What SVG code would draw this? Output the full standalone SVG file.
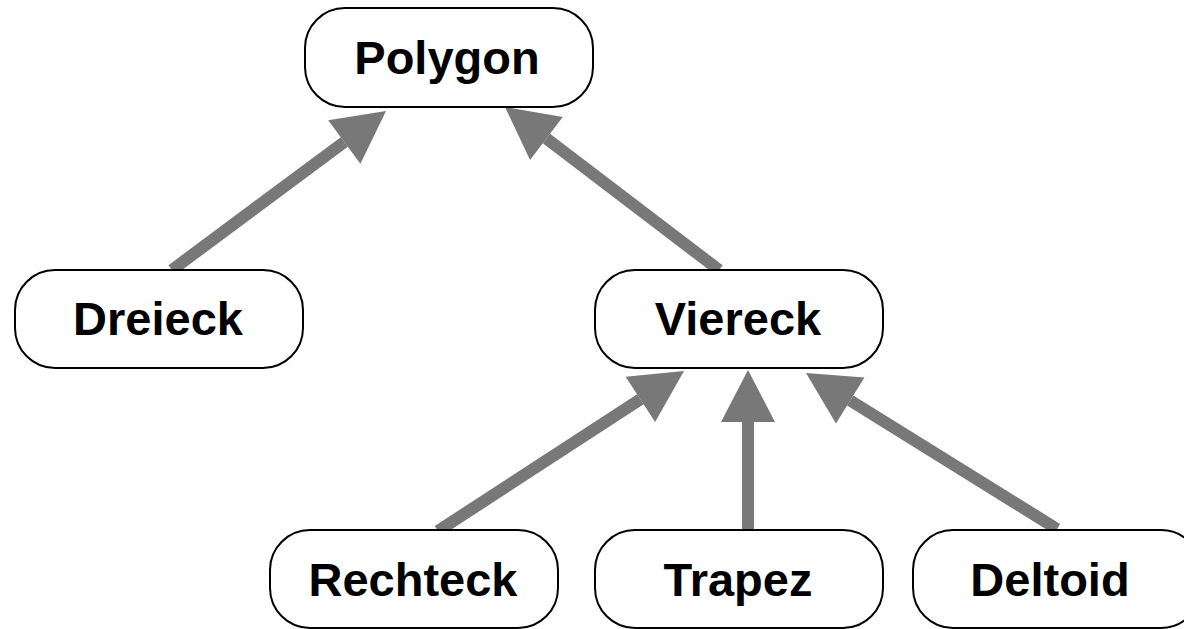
<svg xmlns="http://www.w3.org/2000/svg" width="1184" height="629" viewBox="0 0 1184 629">
  <style>
    .box { fill: #ffffff; stroke: #000000; stroke-width: 2; }
    .label { font-family: "Liberation Sans", Arial, sans-serif; font-weight: bold; font-size: 47px; fill: #000000; text-anchor: middle; }
    .edge { stroke: #787878; stroke-width: 12; fill: none; marker-end: url(#head); }
  </style>
  <defs>
    <marker id="head" markerUnits="userSpaceOnUse" markerWidth="52" markerHeight="54" refX="0" refY="27" orient="auto" overflow="visible">
      <path d="M0,0 L52,27 L0,54 Z" fill="#787878"/>
    </marker>
  </defs>
  <rect width="1184" height="629" fill="#ffffff"/>

  <g id="connectors">
    <line class="edge" x1="172" y1="270" x2="344.3" y2="142"/>
    <line class="edge" x1="719" y1="270" x2="546.4" y2="138.5"/>
    <line class="edge" x1="438" y1="531" x2="640.4" y2="399.3"/>
    <line class="edge" x1="748" y1="530" x2="748" y2="422"/>
    <line class="edge" x1="1057" y1="529" x2="850.2" y2="400.5"/>
  </g>

  <g id="polygon">
    <rect class="box" x="305" y="8" width="288" height="99" rx="40" ry="40"/>
    <text class="label" x="447" y="74">Polygon</text>
  </g>
  <g id="dreieck">
    <rect class="box" x="15" y="270" width="288" height="98" rx="40" ry="40"/>
    <text class="label" x="158" y="335">Dreieck</text>
  </g>
  <g id="viereck">
    <rect class="box" x="595" y="270" width="288" height="98" rx="40" ry="40"/>
    <text class="label" x="738" y="335">Viereck</text>
  </g>
  <g id="rechteck">
    <rect class="box" x="270" y="530" width="288" height="98" rx="40" ry="40"/>
    <text class="label" x="413" y="596">Rechteck</text>
  </g>
  <g id="trapez">
    <rect class="box" x="595" y="530" width="288" height="98" rx="40" ry="40"/>
    <text class="label" x="738" y="596">Trapez</text>
  </g>
  <g id="deltoid">
    <rect class="box" x="913" y="530" width="288" height="98" rx="40" ry="40"/>
    <text class="label" x="1050" y="596">Deltoid</text>
  </g>
</svg>
